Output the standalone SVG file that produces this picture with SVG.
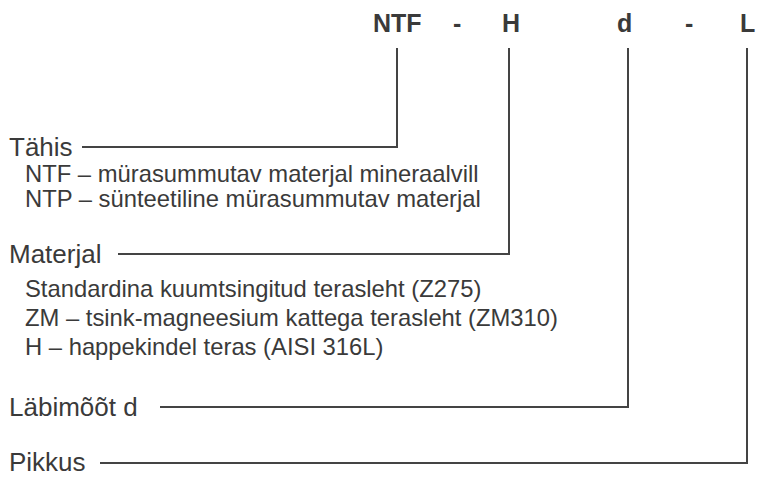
<svg xmlns="http://www.w3.org/2000/svg" width="757" height="481" viewBox="0 0 757 481">
<style>
text{font-family:"Liberation Sans",Arial,sans-serif;fill:#3a3a3a}
.code{font-weight:bold;font-size:25px}
.h{font-size:26px}
.b{font-size:23.8px}
.c{fill:none;stroke:#444;stroke-width:2}
</style>
<rect width="757" height="481" fill="#fff"/>
<g id="code">
<text class="code" x="373" y="32">NTF</text>
<text class="code" x="453" y="32">-</text>
<text class="code" x="502" y="32">H</text>
<text class="code" x="617" y="32">d</text>
<text class="code" x="685" y="32">-</text>
<text class="code" x="740" y="32">L</text>
</g>
<g id="tahis">
<text class="h" x="9" y="156">Tähis</text>
<text class="b" x="25" y="182">NTF – mürasummutav materjal mineraalvill</text>
<text class="b" x="25" y="207">NTP – sünteetiline mürasummutav materjal</text>
</g>
<g id="materjal">
<text class="h" x="9" y="263">Materjal</text>
<text class="b" x="25" y="297">Standardina kuumtsingitud terasleht (Z275)</text>
<text class="b" x="25" y="326">ZM – tsink-magneesium kattega terasleht (ZM310)</text>
<text class="b" x="25" y="355">H – happekindel teras (AISI 316L)</text>
</g>
<g id="labimoot">
<text class="h" x="9" y="416">Läbimõõt d</text>
</g>
<g id="pikkus">
<text class="h" x="9" y="471">Pikkus</text>
</g>
<g id="connectors">
<polyline class="c" points="397,48 397,147 82,147"/>
<polyline class="c" points="509,48 509,254 118,254"/>
<polyline class="c" points="628,48 628,407 160,407"/>
<polyline class="c" points="747,48 747,463 100,463"/>
</g>
</svg>
